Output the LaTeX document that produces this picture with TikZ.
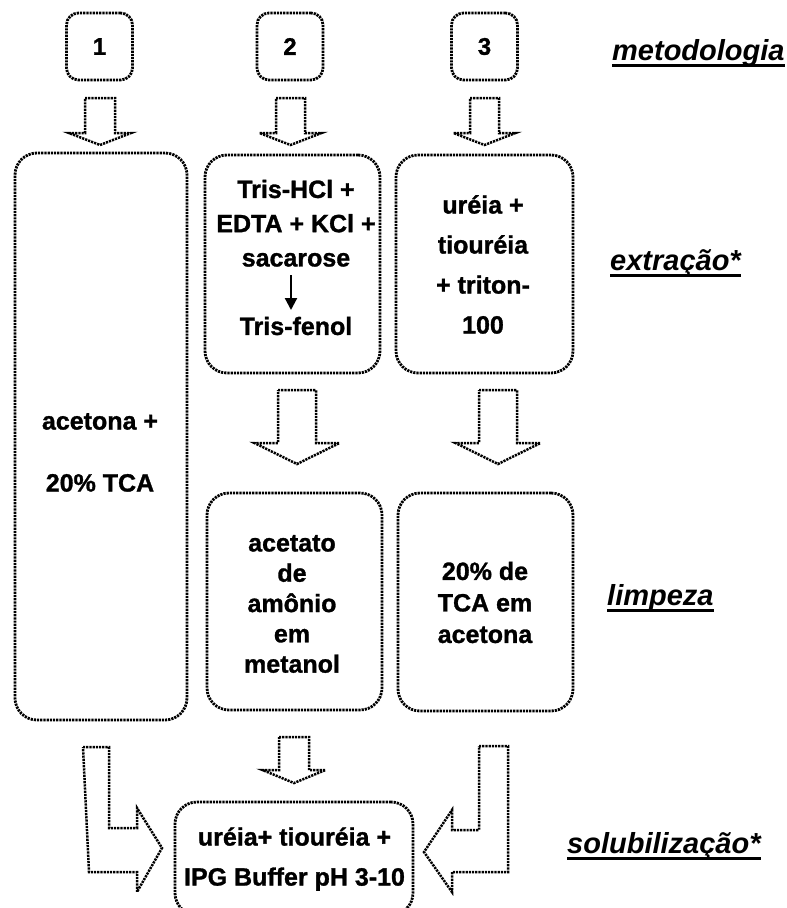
\documentclass[tikz,border=0pt]{standalone}
\usepackage{fontspec}
\setmainfont{Liberation Sans}[BoldFeatures={FakeBold=1.2}]
\usetikzlibrary{calc,arrows.meta}

\tikzset{
  dotline/.style={line width=2.8pt, dash pattern=on 2.2pt off 1pt},
  stagebox/.style={dotline, draw, rounded corners=22pt, inner sep=0pt},
  numbox/.style={dotline, draw, rounded corners=12pt, inner sep=0pt,
    minimum width=66pt, minimum height=67pt,
    font=\fontsize{24}{28}\selectfont\bfseries},
  boxtext/.style={align=center, inner sep=0pt,
    font=\fontsize{25}{#1}\selectfont\bfseries},
  blockarrow/.style={dotline, line width=2.5pt, line join=miter},
  thinarrow/.style={line width=2.2pt, -{Triangle[length=12pt,width=12pt]}},
  phase/.style={inner sep=0pt, anchor=base west,
    font=\fontsize{29}{34}\selectfont\bfseries\itshape},
  phaseline/.style={line width=3pt},
}

% hollow block arrow pointing down:
% #1 centre x, #2 half shaft, #3 half head, #4 top y, #5 head base y, #6 tip y
\newcommand\downblock[6]{%
  \draw[blockarrow] (#1-#2,#4) -- (#1+#2,#4) -- (#1+#2,#5) -- (#1+#3,#5)
    -- (#1,#6) -- (#1-#3,#5) -- (#1-#2,#5) -- cycle;}

\begin{document}
\begin{tikzpicture}[x=1pt,y=-1pt]
\useasboundingbox (0,0) rectangle (787,908);
\clip (0,0) rectangle (787,908);

% method numbers
\node[numbox] (n1) at (99.5,46.5) {1};
\node[numbox] (n2) at (290,46.5) {2};
\node[numbox] (n3) at (484.5,46.5) {3};

% stage boxes
\node[stagebox, minimum width=172pt, minimum height=567pt] (b1) at (101,436.5) {};
\node[stagebox, minimum width=175pt, minimum height=218pt] (e2) at (292.5,264) {};
\node[stagebox, minimum width=177pt, minimum height=218pt] (e3) at (484.5,264) {};
\node[stagebox, minimum width=175pt, minimum height=217pt] (l2) at (294.5,601.5) {};
\node[stagebox, minimum width=175pt, minimum height=218pt] (l3) at (485.5,602) {};
\node[stagebox, minimum width=238pt, minimum height=113pt] (s) at (294,858.5) {};

% box contents
\node[boxtext=31] (t1) at (100,452.5) {acetona +\\[31pt]20\% TCA};
\node[boxtext=34.25] (te2) at (296,257.5)
  {Tris-HCl +\\EDTA + KCl +\\sacarose\\[34.25pt]Tris-fenol};
\coordinate (a2top) at (291,275);
\coordinate (a2tip) at (291,310);
\draw[thinarrow] (a2top) -- (a2tip);
\node[boxtext=40] (te3) at (483,264.5) {uréia +\\tiouréia\\+ triton-\\100};
\node[boxtext=30.3] (tl2) at (292,604) {acetato\\de\\amônio\\em\\metanol};
\node[boxtext=31.5] (tl3) at (485,602.5) {20\% de\\TCA em\\acetona};
\node[boxtext=40] (ts) at (294.5,859) {uréia+ tiouréia +\\IPG Buffer pH 3-10};

% flow arrows
\downblock{100}{15}{31}{98}{133}{145}
\downblock{290.5}{14.5}{31}{98}{133}{145}
\downblock{484.5}{14.5}{31}{98}{133}{145}
\downblock{297}{19}{42.5}{390}{443}{464}
\downblock{498}{19}{42.5}{390}{443}{464}
\downblock{294}{15}{31.5}{737}{770}{783}

% bent arrows into the final box
\draw[blockarrow] (83,747) -- (109,747) -- (109,828) -- (137,828) -- (137,808)
  -- (162,848) -- (137,892) -- (137,872) -- (89,872) -- cycle;
\draw[blockarrow] (479,746) -- (508,746) -- (508,872) -- (452,872) -- (452,892)
  -- (424,852) -- (452,810) -- (452,830) -- (479,830) -- cycle;

% phase labels
\node[phase] (p1) at (612,60) {metodologia};
\node[phase] (p2) at (610,270) {extração*};
\node[phase] (p3) at (607,605) {limpeza};
\node[phase] (p4) at (567,853) {solubilização*};
\foreach \p in {p1,p2,p3,p4}
  \draw[phaseline] ($(\p.base west)+(0,5)$) -- ($(\p.base east)+(0,5)$);
\end{tikzpicture}
\end{document}
